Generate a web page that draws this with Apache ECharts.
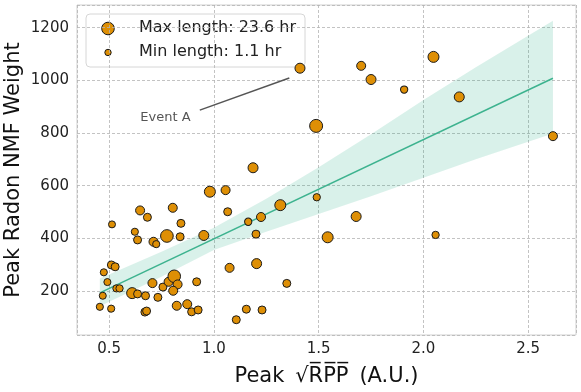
<!DOCTYPE html>
<html>
<head>
<meta charset="utf-8">
<script src="https://cdn.jsdelivr.net/npm/echarts@6/dist/echarts.min.js"></script>
<style>
html, body { margin: 0; padding: 0; background: #fff; }
#main { width: 581px; height: 392px; }
</style>
</head>
<body>
<div id="main"></div>
<script>
// peak sqrt(RPP) per event
var peakRpp = [1.411, 1.703, 1.750, 1.908, 2.048, 2.171, 1.488, 2.618, 1.491, 1.679,
    1.543, 2.058, 1.187, 0.981, 1.056, 1.066, 1.164, 1.225, 1.317, 1.201,
    0.952, 1.075, 1.204, 1.348, 0.918, 1.155, 1.230, 1.107, 0.894, 0.925,
    0.648, 0.683, 0.804, 0.843, 0.514, 0.623, 0.636, 0.712, 0.725, 0.776,
    0.839, 0.511, 0.529, 0.475, 0.492, 0.535, 0.550, 0.470, 0.456, 0.510,
    0.610, 0.636, 0.674, 0.707, 0.733, 0.757, 0.784, 0.811, 0.827, 0.806,
    0.671, 0.679, 0.823, 0.873];
// peak radon NMF weight
var nmfWeight = [1046, 1055, 1003, 965, 1089, 937, 827, 788, 556, 483,
    404, 413, 668, 577, 583, 501, 463, 481, 526, 416,
    411, 288, 304, 229, 235, 131, 128, 91, 121, 128,
    506, 480, 516, 457, 453, 425, 394, 387, 378, 409,
    406, 299, 292, 271, 234, 210, 210, 182, 140, 133,
    192, 189, 182, 230, 176, 215, 235, 256, 225, 201,
    120, 124, 144, 150];
// event length (hr), gives the marker size
var lengthHr = [10.7, 7.1, 10.7, 1.8, 14.6, 10.7, 23.6, 7.1, 2.0, 10.7,
    14.6, 2.0, 10.7, 14.6, 7.1, 3.9, 1.8, 7.1, 14.6, 3.9,
    10.7, 7.1, 10.7, 3.9, 3.9, 3.9, 3.9, 3.9, 3.9, 3.9,
    7.1, 3.9, 7.1, 3.9, 1.1, 1.5, 3.9, 7.1, 1.6, 22.0,
    3.9, 3.9, 3.9, 1.4, 1.3, 1.7, 1.9, 1.2, 1.5, 1.6,
    14.6, 3.9, 3.9, 7.1, 3.9, 3.9, 7.1, 21.5, 7.1, 7.1,
    3.9, 3.9, 7.1, 7.1];

// regression line and its confidence band
var fitX = [0.456, 2.618];
var fitY = [193, 1008];
var ciX = [0.456, 0.75, 1.0, 1.25, 1.5, 1.75, 2.0, 2.25, 2.618];
var ciUpper = [248, 349, 440, 550, 670, 795, 925, 1050, 1226];
var ciLower = [142, 254, 356, 425, 492, 560, 630, 700, 798];

// annotation: arrow start, arrow tip, text centre (data coords)
var eventFrom = [0.933, 887];
var eventTip = [1.360, 1009];
var eventText = [0.769, 858];

var minLen = 1.1, maxLen = 23.6;
var font = 'DejaVu Sans';

function sizeOf(len) {
    var t = (len - minLen) / (maxLen - minLen);
    return Math.sqrt(49 + t * 120);
}

var pts = [];
for (var i = 0; i < peakRpp.length; i++) {
    pts.push([peakRpp[i], nmfWeight[i], lengthHr[i]]);
}
var bandData = [];
for (var j = 0; j < ciX.length; j++) {
    bandData.push([ciX[j], ciLower[j], ciUpper[j]]);
}
var fitData = [];
for (var k = 0; k < fitX.length; k++) {
    fitData.push([fitX[k], fitY[k]]);
}

// band as one polygon: upper edge forwards, lower edge back
function renderBand(params, api) {
    if (params.dataIndex !== 0) return null;
    var points = [];
    for (var a = 0; a < ciX.length; a++) points.push(api.coord([ciX[a], ciUpper[a]]));
    for (var b = ciX.length - 1; b >= 0; b--) points.push(api.coord([ciX[b], ciLower[b]]));
    return {
        type: 'polygon',
        shape: { points: points },
        style: { fill: 'rgba(2,158,115,0.15)' }
    };
}

var dotStyle = { color: '#de8f05', borderColor: '#1a1a1a', borderWidth: 1, opacity: 1 };
var legendText = { font: '16px "DejaVu Sans"', fill: '#222', verticalAlign: 'middle' };

var myChart = echarts.init(document.getElementById('main'));
var option = {
    animation: false,
    grid: {
        left: 77, right: 5, top: 5, bottom: 57,
        containLabel: false, outerBoundsMode: 'none',
        show: true, borderColor: '#d0d0d0', borderWidth: 1
    },
    xAxis: {
        type: 'value', min: 0.347, max: 2.728, splitNumber: 5,
        axisLine: { show: false }, axisTick: { show: false },
        axisLabel: {
            showMinLabel: false, showMaxLabel: false, margin: 7, fontSize: 15, color: '#222', fontFamily: font,
            formatter: function (v) { return v.toFixed(1); }
        },
        splitLine: { lineStyle: { type: [3, 2], color: '#b4b4b4', width: 0.8 } },
        name: 'Peak \u2009\u221AR\u0305P\u0305P\u0305\u2009 (A.U.)', nameLocation: 'middle', nameGap: 31,
        nameMoveOverlap: false,
        nameTextStyle: { fontSize: 21, color: '#111', fontFamily: font }
    },
    yAxis: {
        type: 'value', min: 33, max: 1286, splitNumber: 6,
        axisLine: { show: false }, axisTick: { show: false },
        axisLabel: {
            showMinLabel: false, showMaxLabel: false, margin: 8, fontSize: 15, color: '#222', fontFamily: font,
            formatter: function (v) { return String(v); }
        },
        splitLine: { lineStyle: { type: [3, 2], color: '#b4b4b4', width: 0.8 } },
        name: 'Peak Radon NMF Weight', nameLocation: 'middle', nameGap: 53,
        nameMoveOverlap: false,
        nameTextStyle: { fontSize: 21, color: '#111', fontFamily: font }
    },
    // legend box drawn by hand: two marker sizes
    graphic: [{
        type: 'group', z: 100, silent: true,
        children: [{
            type: 'rect',
            shape: { x: 86, y: 14, width: 219, height: 53, r: 4 },
            style: { fill: 'rgba(255,255,255,0.8)', stroke: '#d6d6d6', lineWidth: 1 }
        }, {
            type: 'circle', shape: { cx: 108, cy: 28.5, r: 6.3 },
            style: { fill: '#de8f05', stroke: '#1a1a1a', lineWidth: 1 }
        }, {
            type: 'circle', shape: { cx: 108, cy: 52.5, r: 3.2 },
            style: { fill: '#de8f05', stroke: '#1a1a1a', lineWidth: 1 }
        }, {
            type: 'text', x: 139, y: 28,
            style: echarts.util.extend({ text: 'Max length: 23.6 hr' }, legendText)
        }, {
            type: 'text', x: 139, y: 52,
            style: echarts.util.extend({ text: 'Min length: 1.1 hr' }, legendText)
        }]
    }],
    series: [{
        name: 'ci', type: 'custom', data: bandData, silent: true, z: 1,
        encode: { x: 0, y: [1, 2] },
        renderItem: renderBand
    }, {
        name: 'fit', type: 'line', data: fitData,
        symbol: 'none', silent: true, z: 2,
        lineStyle: { color: '#3db38f', width: 1.5 }
    }, {
        name: 'events', type: 'scatter', data: pts, z: 3,
        symbolSize: function (v) { return sizeOf(v[2]); },
        itemStyle: dotStyle,
        markLine: {
            silent: true,
            symbol: ['none', 'arrow'], symbolSize: [0, 9],
            lineStyle: { color: '#555', width: 1.5, type: 'solid', opacity: 1 },
            label: { show: false },
            data: [[{ coord: eventFrom }, { coord: eventTip }]]
        },
        markPoint: {
            silent: true,
            symbol: 'circle', symbolSize: 0,
            label: { show: true, position: 'inside', formatter: 'Event A', color: '#555', fontSize: 13, fontFamily: font },
            data: [{ coord: eventText }]
        }
    }]
};
myChart.setOption(option);
</script>
</body>
</html>
